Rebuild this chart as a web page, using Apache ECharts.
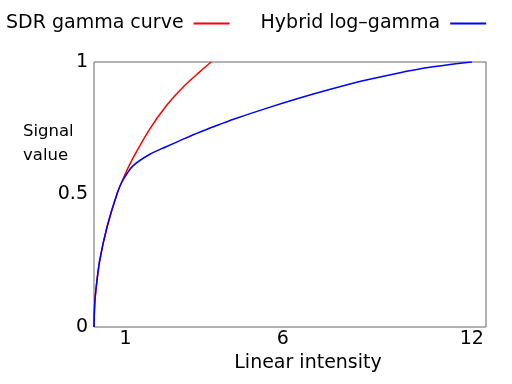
<!DOCTYPE html>
<html>
<head>
<meta charset="utf-8">
<script src="https://cdn.jsdelivr.net/npm/echarts@6/dist/echarts.min.js"></script>
<style>
  html, body { margin: 0; padding: 0; background: #fff; }
  #chart { width: 512px; height: 384px; }
</style>
</head>
<body>
<div id="chart"></div>
<script>
// values: [linear intensity, signal value]
const sdrPoints = [
  [0, 0], [0.02, 0.08], [0.06, 0.14], [0.18, 0.25], [0.42, 0.38], [0.741, 0.506],
  [0.964, 0.57], [1.228, 0.635], [1.759, 0.745], [2.29, 0.834],
  [2.818, 0.904], [3.349, 0.962], [3.72, 1.0]
];
const hlgPoints = [
  [0, 0], [0.02, 0.08], [0.06, 0.14], [0.18, 0.25], [0.42, 0.38], [0.741, 0.506],
  [0.9, 0.55], [1.228, 0.607], [1.759, 0.651], [2.29, 0.68], [2.818, 0.708],
  [3.349, 0.735], [3.985, 0.764], [4.408, 0.783], [5.471, 0.825], [6.53, 0.864],
  [7.48, 0.896], [8.54, 0.929], [9.61, 0.957], [10.66, 0.98], [12, 1.0]
];
const xTicks = [1, 6, 12];
const seriesNames = ['SDR gamma curve', 'Hybrid log\u2013gamma'];

const myChart = echarts.init(document.getElementById('chart'));
const font = 'DejaVu Sans';
const option = {
  animation: false,
  textStyle: { fontFamily: font },
  legend: {
    left: 1,
    top: 9,
    align: 'right',
    icon: 'rect',
    itemWidth: 36,
    itemHeight: 2,
    itemGap: 31,
    textStyle: { fontFamily: font, fontSize: 19, color: '#000', padding: [0, 5, 0, 0] },
    data: seriesNames
  },
  grid: {
    left: 94, right: 26, top: 62, bottom: 57,
    show: true, borderColor: '#666', borderWidth: 1
  },
  graphic: [{
    type: 'text', left: 23, top: 120,
    style: { text: 'Signal\nvalue', font: '16.5px "DejaVu Sans"', fill: '#000', lineHeight: 24 }
  }],
  xAxis: {
    type: 'value', min: 0, max: 12.45,
    name: 'Linear intensity', nameLocation: 'middle', nameGap: 26,
    nameTextStyle: { fontFamily: font, fontSize: 19, color: '#000', padding: [0, 0, 0, 36] },
    axisLine: { show: false }, axisTick: { show: false }, splitLine: { show: false },
    axisLabel: { customValues: xTicks, fontFamily: font, fontSize: 19, color: '#000', margin: 3 }
  },
  yAxis: {
    type: 'value', min: 0, max: 1, interval: 0.5,
    axisLine: { show: false }, axisTick: { show: false }, splitLine: { show: false },
    axisLabel: { fontFamily: font, fontSize: 19, color: '#000', margin: 6 }
  },
  series: [
    {
      name: seriesNames[0], type: 'line', data: sdrPoints, smooth: 0.3,
      showSymbol: false, lineStyle: { color: '#ff0000', width: 1.5 }, itemStyle: { color: '#ff0000' }
    },
    {
      name: seriesNames[1], type: 'line', data: hlgPoints, smooth: 0.3,
      showSymbol: false, lineStyle: { color: '#0000ff', width: 1.5 }, itemStyle: { color: '#0000ff' }
    }
  ]
};
myChart.setOption(option);
</script>
</body>
</html>
